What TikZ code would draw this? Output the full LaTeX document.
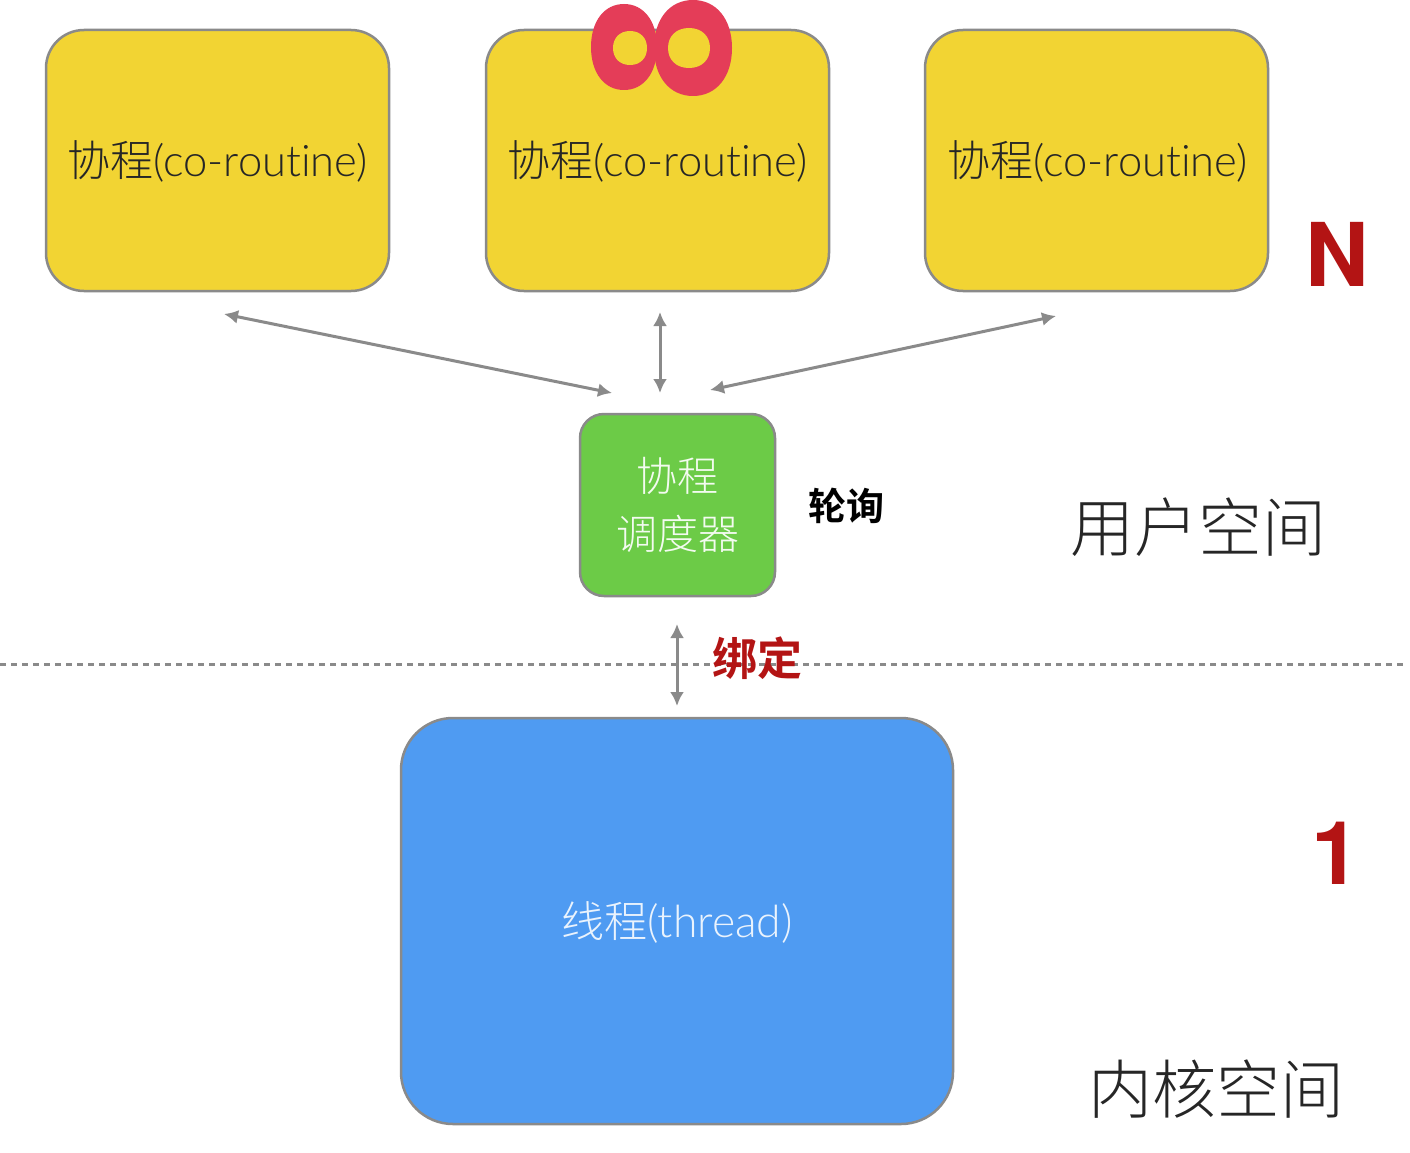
\documentclass[tikz,border=0pt]{standalone}
\usepackage{fontspec}
\setmainfont{TeX Gyre Heros}
\newfontfamily\cjk{Noto Sans CJK SC Light}
\newfontfamily\cjkb{Noto Sans CJK SC Bold}
\newfontfamily\latl[Ligatures=NoCommon]{Lato Light}
\usetikzlibrary{arrows.meta}
\definecolor{yel}{HTML}{F2D433}
\definecolor{grn}{HTML}{6CCB47}
\definecolor{blu}{HTML}{4F9BF2}
\definecolor{edge}{HTML}{8A8A8A}
\definecolor{rd}{HTML}{B31414}
\definecolor{ring}{HTML}{E43D58}
\tikzset{
 box/.style={draw=edge,line width=2.5pt,minimum width=#1},
 co/.style={box=343pt,minimum height=261pt,fill=yel,rounded corners=38pt,inner sep=0pt},
 arr/.style={draw=edge,line width=3pt,{Latex[length=14pt,width=14pt]}-{Latex[length=14pt,width=14pt]}},
 ct/.style={font=\fontsize{43}{43}\selectfont},
}
\newcommand{\colabel}{{\cjk 协程}{\latl\fontsize{43.5}{44}\selectfont (co-routine)}}
% superellipse-like blob: centre x, centre y, x radius, y radius, colour
\newcommand{\blob}[5]{\fill[#5] (#1-#3,#2) .. controls (#1-#3,#2-0.6*#4) and (#1-0.6*#3,#2-#4) .. (#1,#2-#4)
  .. controls (#1+0.6*#3,#2-#4) and (#1+#3,#2-0.6*#4) .. (#1+#3,#2)
  .. controls (#1+#3,#2+0.6*#4) and (#1+0.6*#3,#2+#4) .. (#1,#2+#4)
  .. controls (#1-0.6*#3,#2+#4) and (#1-#3,#2+0.6*#4) .. cycle;}
\begin{document}
\begin{tikzpicture}[x=1pt,y=-1pt]
\useasboundingbox (0,0) rectangle (1410,1153);
\fill[white] (0,0) rectangle (1410,1153);
\node[co] (a) at (217.5,160.5) {};
\node[co] (b) at (657.5,160.5) {};
\node[co] (c) at (1096.5,160.5) {};
\node[ct,text=black!85] (ta) at (217.5,161) {\colabel};
\node[ct,text=black!85] (tb) at (657.5,161) {\colabel};
\node[ct,text=black!85] (tc) at (1097.5,161) {\colabel};
% infinity badge
\blob{624}{47}{33}{43}{ring}
\blob{693}{48}{39}{48}{ring}
\blob{630}{48}{17}{17}{yel}
\blob{689}{48}{21}{20}{yel}
\node[box=195pt,minimum height=182pt,fill=grn,rounded corners=24pt,inner sep=0pt] (s) at (677.5,505) {};
\node[font=\fontsize{41}{41}\selectfont\cjk,text=white!92!grn] (s1) at (677.5,476) {协程};
\node[font=\fontsize{41}{41}\selectfont\cjk,text=white!92!grn] (s2) at (677.5,534) {调度器};
\node[font=\fontsize{38}{38}\selectfont\cjkb,text=black] (poll) at (846.5,506) {轮询};
\node[font=\fontsize{64}{64}\selectfont\cjk,text=black!85] (us) at (1198.5,527) {用户空间};
\node[font=\fontsize{64}{64}\selectfont\cjk,text=black!85] (ks) at (1216.5,1089) {内核空间};
\draw[edge,line width=2.5pt,dash pattern=on 6pt off 5pt] (0,664.5) coordinate (dl) -- (1407,664.5) coordinate (dr);
\node[box=552pt,minimum height=406pt,fill=blu,rounded corners=52pt,inner sep=0pt] (t) at (677,921) {};
\node[font=\fontsize{43}{43}\selectfont,text=white!88!blu] (tt) at (677,922) {{\cjk 线程}{\latl\fontsize{44.5}{44}\selectfont (thread)}};
\node[font=\fontsize{45}{45}\selectfont\cjkb,text=rd] (bind) at (757,658) {绑定};
\node[font=\fontsize{88}{88}\selectfont\bfseries,text=rd] (nn) at (1337,254) {N};
\node[font=\fontsize{88}{88}\selectfont\bfseries,text=rd] (one) at (1336,853) {1};
\coordinate (a1) at (224,314);
\coordinate (s1a) at (612,393);
\coordinate (b1) at (660,312);
\coordinate (s1b) at (660,393);
\coordinate (c1) at (1056,316);
\coordinate (s1c) at (710,390);
\coordinate (u1) at (677,624);
\coordinate (u2) at (677,706);
\draw[arr] (a1) -- (s1a);
\draw[arr] (b1) -- (s1b);
\draw[arr] (c1) -- (s1c);
\draw[arr] (u1) -- (u2);
\end{tikzpicture}
\end{document}
